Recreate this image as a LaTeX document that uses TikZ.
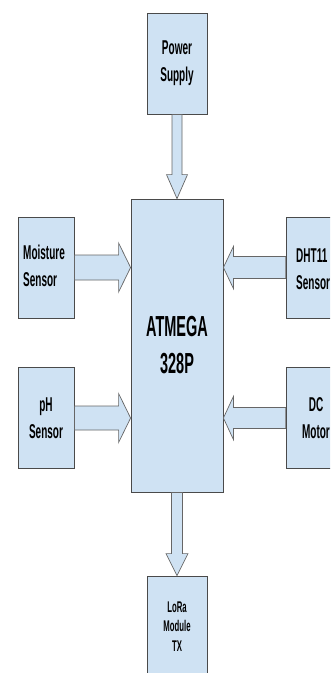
\documentclass[tikz,border=0pt]{standalone}
\usepackage{fontspec}
\newfontfamily\nb[FakeStretch=0.5]{Liberation Sans}
\usetikzlibrary{calc}
\definecolor{boxfill}{HTML}{CFE2F3}
\definecolor{boxline}{HTML}{4A4A4A}
\definecolor{arrline}{HTML}{666666}
\tikzset{
  blk/.style={draw=boxline, fill=boxfill, line width=0.8pt, inner sep=0pt,
    font=\nb\bfseries\fontsize{20}{27}\selectfont, align=center},
  sidebox/.style={blk, minimum width=56pt, minimum height=101pt},
  colbox/.style={blk, minimum width=60pt, minimum height=101pt},
  lbl/.style={inner sep=0pt, font=\nb\bfseries\fontsize{20}{27}\selectfont, align=left},
  barrow/.style={draw=arrline, fill=boxfill, line width=0.7pt, line join=miter}
}
\begin{document}
\begin{tikzpicture}[x=1pt,y=-1pt]
\clip (0,0) rectangle (330,673);
\fill[white] (0,0) rectangle (330,673);

\node[colbox] (ps) at (177,63.5) {Power\\Supply};
\node[blk, minimum width=92pt, minimum height=293pt,
  font=\nb\bfseries\fontsize{29}{37}\selectfont] (main) at (177,345.5) {ATMEGA\\328P};
\node[sidebox] (moist) at (46,267.5) {};
\node[lbl, anchor=west] (moistl) at (23,266) {Moisture\\Sensor};
\node[sidebox] (ph) at (46,418) {pH\\Sensor};
\node[colbox] (dht) at (316,267.5) {};
\node[lbl, anchor=west] (dhtl) at (296,269) {DHT11\\Sensor};
\node[colbox] (dc) at (316,418) {DC\\Motor};
\node[colbox, font=\nb\bfseries\fontsize{15.5}{19.5}\selectfont] (lora) at (177,626.5) {LoRa\\Module\\TX};

% power -> main
\draw[barrow] ($(ps.south)+(-5,0)$) -- ($(main.north)+(-5,-24)$) -- ($(main.north)+(-10.5,-24)$)
  -- (main.north) -- ($(main.north)+(10.5,-24)$) -- ($(main.north)+(5,-24)$) -- ($(ps.south)+(5,0)$) -- cycle;
% main -> lora
\coordinate (lt) at (lora.north);
\draw[barrow] ($(main.south)+(-5.5,0)$) -- ($(lt)+(-5.5,-22)$) -- ($(lt)+(-11,-22)$)
  -- (lt) -- ($(lt)+(11,-22)$) -- ($(lt)+(5.5,-22)$) -- ($(main.south)+(5.5,0)$) -- cycle;
% moisture -> main
\coordinate (mt) at (main.west|-moist.east);
\draw[barrow] ($(moist.east)+(0,-12.5)$) -- ($(mt)+(-12,-12.5)$) -- ($(mt)+(-12,-24.5)$)
  -- (mt) -- ($(mt)+(-12,24.5)$) -- ($(mt)+(-12,12.5)$) -- ($(moist.east)+(0,12.5)$) -- cycle;
% ph -> main
\coordinate (pt) at (main.west|-ph.east);
\draw[barrow] ($(ph.east)+(0,-12)$) -- ($(pt)+(-12,-12)$) -- ($(pt)+(-12,-24.5)$)
  -- (pt) -- ($(pt)+(-12,24.5)$) -- ($(pt)+(-12,12)$) -- ($(ph.east)+(0,12)$) -- cycle;
% dht -> main
\coordinate (dt) at (main.east|-dht.west);
\draw[barrow] ($(dht.west)+(0,-11)$) -- ($(dt)+(10,-11)$) -- ($(dt)+(10,-21)$)
  -- (dt) -- ($(dt)+(10,21)$) -- ($(dt)+(10,11)$) -- ($(dht.west)+(0,11)$) -- cycle;
% dc -> main
\coordinate (ct) at (main.east|-dc.west);
\draw[barrow] ($(dc.west)+(0,-10.5)$) -- ($(ct)+(10,-10.5)$) -- ($(ct)+(10,-21.5)$)
  -- (ct) -- ($(ct)+(10,21.5)$) -- ($(ct)+(10,10.5)$) -- ($(dc.west)+(0,10.5)$) -- cycle;
\end{tikzpicture}
\end{document}
